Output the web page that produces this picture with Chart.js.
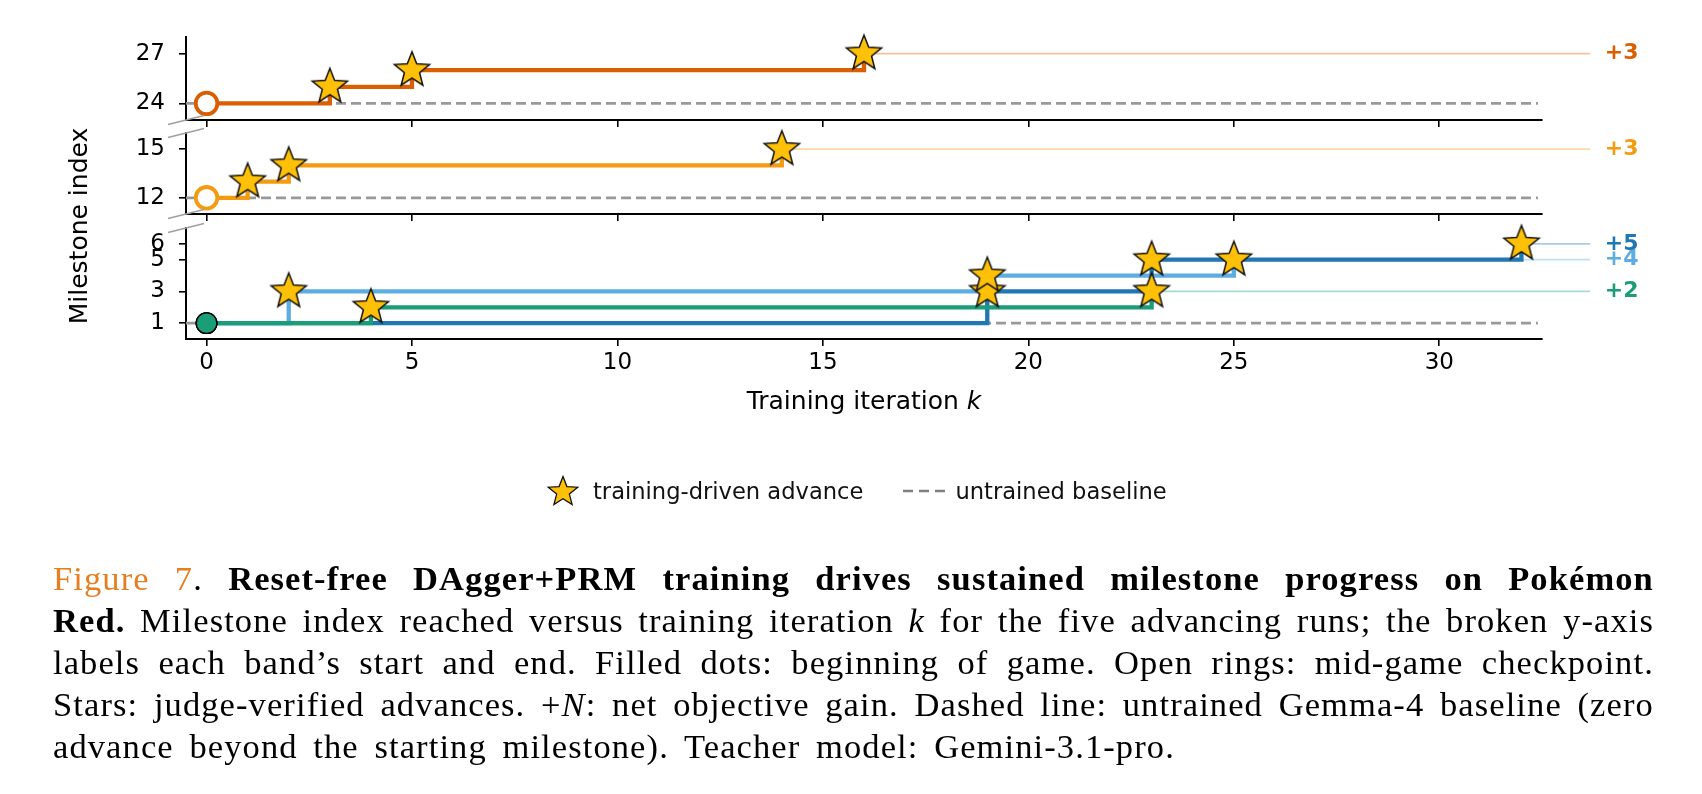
<!DOCTYPE html>
<html><head><meta charset="utf-8">
<script src="https://cdn.jsdelivr.net/npm/chart.js@4.4.1/dist/chart.umd.min.js"></script>
<style>
html,body{margin:0;padding:0;background:#fff;}
#wrap{position:relative;width:1702px;height:794px;overflow:hidden;background:#fff;font-family:'DejaVu Sans';}
canvas.panel{position:absolute;left:0;top:0;}
#ylabel{position:absolute;left:-70.6px;top:211px;width:300px;height:30px;line-height:30px;text-align:center;font-size:25px;transform:rotate(-90deg);color:#000;white-space:nowrap;}
#xlabel{position:absolute;left:564px;width:600px;top:386px;height:30px;line-height:30px;text-align:center;font-size:25px;color:#000;white-space:nowrap;}
#legend{position:absolute;left:545px;top:476px;height:30px;display:flex;align-items:center;font-size:22.6px;color:#111;white-space:nowrap;}
#legend .txt{line-height:30px;}
#caption{position:absolute;left:53px;top:557px;width:1601px;font-family:'Liberation Serif';font-size:34.5px;line-height:42px;color:#000;letter-spacing:1.1px;}
.jl{display:flex;justify-content:space-between;white-space:nowrap;}
.last{white-space:nowrap;word-spacing:6px;}
.fig{color:#E67E22;}
</style></head>
<body>
<div id="wrap">
  <canvas id="cTop" class="panel" width="1702" height="794" style="width:1702px;height:794px"></canvas>
  <canvas id="cMid" class="panel" width="1702" height="794" style="width:1702px;height:794px"></canvas>
  <canvas id="cLow" class="panel" width="1702" height="794" style="width:1702px;height:794px"></canvas>
  <div id="ylabel">Milestone index</div>
  <div id="xlabel">Training iteration <i>k</i></div>
  <div id="legend">
    <span id="legStar" style="display:inline-block;width:34px;height:34px"></span>
    <span class="txt" style="margin-left:14px">training-driven advance</span>
    <svg width="42" height="10" style="margin-left:40px"><line x1="0" y1="5" x2="42" y2="5" stroke="#808080" stroke-width="2.6" stroke-dasharray="10 6"/></svg>
    <span class="txt" style="margin-left:10px">untrained baseline</span>
  </div>
  <div id="caption">
    <div class="jl"><span><span class="fig">Figure</span></span><span><span class="fig">7</span>.</span><b>Reset-free</b><b>DAgger+PRM</b><b>training</b><b>drives</b><b>sustained</b><b>milestone</b><b>progress</b><b>on</b><b>Pokémon</b></div>
    <div class="jl"><b>Red.</b><span>Milestone</span><span>index</span><span>reached</span><span>versus</span><span>training</span><span>iteration</span><i>k</i><span>for</span><span>the</span><span>five</span><span>advancing</span><span>runs;</span><span>the</span><span>broken</span><span>y-axis</span></div>
    <div class="jl"><span>labels</span><span>each</span><span>band’s</span><span>start</span><span>and</span><span>end.</span><span>Filled</span><span>dots:</span><span>beginning</span><span>of</span><span>game.</span><span>Open</span><span>rings:</span><span>mid-game</span><span>checkpoint.</span></div>
    <div class="jl"><span>Stars:</span><span>judge-verified</span><span>advances.</span><span>+<i>N</i>:</span><span>net</span><span>objective</span><span>gain.</span><span>Dashed</span><span>line:</span><span>untrained</span><span>Gemma-4</span><span>baseline</span><span>(zero</span></div>
    <div class="last">advance beyond the starting milestone). Teacher model: Gemini-3.1-pro.</div>
  </div>
</div>
<script>
// ---------------- data ----------------
const iterTicks = [0, 5, 10, 15, 20, 25, 30];
const topTicks = [24, 27];
const midTicks = [12, 15];
const lowTicks = [1, 3, 5, 6];

// iterations at which each run reached a new milestone, and the milestone reached
const runTopIters = [0, 3, 5, 16];
const runTopLevels = [24, 25, 26, 27];
const runMidIters = [0, 1, 2, 14];
const runMidLevels = [12, 13, 14, 15];
const runLightIters = [0, 2, 19, 25];
const runLightLevels = [1, 3, 4, 5];
const runDarkIters = [0, 19, 23, 32];
const runDarkLevels = [1, 3, 5, 6];
const runGreenIters = [0, 4, 23];
const runGreenLevels = [1, 2, 3];

const netGains = [3, 3, 4, 5, 2];          // top, mid, light blue, dark blue, green
const baselineLevels = [24, 12, 1];        // top band, middle band, low band

// ---------------- style / layout ----------------
const W = 1702, H = 794;
const AREA_LEFT = 186, AREA_RIGHT = 1542, XH = 40;
const X_MIN = -0.5, X_MAX = 32.5;
const BASE_SPAN = [-0.5, 32.4];
const GAIN_LINE_END = 33.67;
const GAIN_LABEL_X = 34.03;
const FONT = 'DejaVu Sans';
const TICK_SIZE = 23;

function hexA(hex, a) {
  const n = parseInt(hex.slice(1), 16);
  return `rgba(${(n >> 16) & 255},${(n >> 8) & 255},${n & 255},${a})`;
}
function makeStar(R, fill, edge, lw) {
  const pad = lw + 1;
  const size = Math.ceil(2 * R + 2 * pad);
  const c = document.createElement('canvas');
  c.width = size; c.height = size;
  const g = c.getContext('2d');
  const cx = size / 2, cy = size / 2;
  g.beginPath();
  for (let i = 0; i < 10; i++) {
    const r = i % 2 ? R * 0.43 : R;
    const a = -Math.PI / 2 + i * Math.PI / 5;
    const px = cx + r * Math.cos(a), py = cy + r * Math.sin(a);
    if (i === 0) g.moveTo(px, py); else g.lineTo(px, py);
  }
  g.closePath();
  g.fillStyle = fill; g.fill();
  g.lineWidth = lw; g.strokeStyle = edge; g.lineJoin = 'miter'; g.stroke();
  return c;
}
const STAR_FILL = '#FFC107';
const STAR_IMG = makeStar(18.5, STAR_FILL, '#111', 1.5);
document.getElementById('legStar').appendChild(makeStar(15.5, STAR_FILL, '#111', 1.3));

const runTop = {iters: runTopIters, levels: runTopLevels, gain: netGains[0], color: '#D95F02', start: 'ring'};
const runMid = {iters: runMidIters, levels: runMidLevels, gain: netGains[1], color: '#F39C12', start: 'ring'};
const runLight = {iters: runLightIters, levels: runLightLevels, gain: netGains[2], color: '#5DADE2', start: 'dot'};
const runDark = {iters: runDarkIters, levels: runDarkLevels, gain: netGains[3], color: '#1F77B4', start: 'dot'};
const runGreen = {iters: runGreenIters, levels: runGreenLevels, gain: netGains[4], color: '#1B9E77', start: 'dot'};

const breakPlugin = {
  id: 'breaks',
  afterDraw(chart, args, opts) {
    const {ctx, chartArea: a} = chart;
    ctx.save();
    ctx.strokeStyle = '#a0a0a0'; ctx.lineWidth = 1.5;
    (opts.edges || []).forEach(edge => {
      const y = edge === 'top' ? a.top : a.bottom;
      ctx.beginPath(); ctx.moveTo(a.left - 18, y + 4.5); ctx.lineTo(a.left + 18, y - 4.5); ctx.stroke();
    });
    ctx.restore();
  }
};
const gainPlugin = {
  id: 'gains',
  afterDatasetsDraw(chart, args, opts) {
    const {ctx} = chart; const xs = chart.scales.x, ys = chart.scales.y;
    ctx.save();
    ctx.font = `bold 22px "${FONT}"`; ctx.textBaseline = 'middle'; ctx.textAlign = 'left';
    (opts.items || []).forEach(r => {
      ctx.fillStyle = r.color;
      ctx.fillText('+' + r.gain, xs.getPixelForValue(GAIN_LABEL_X), ys.getPixelForValue(r.levels[r.levels.length - 1]));
    });
    ctx.restore();
  }
};

// runList: top-most drawn first
function buildPanel(id, top, bottom, yMin, yMax, yTicks, runList, baseLevel, showXLabels, breakEdges) {
  const datasets = [];
  const stars = [];
  runList.forEach(r => r.iters.forEach((x, i) => { if (i > 0) stars.push({x, y: r.levels[i]}); }));
  datasets.push({data: stars, showLine: false, pointStyle: STAR_IMG, pointRadius: 17, clip: false});
  const bottomFirst = runList.slice().reverse();
  datasets.push({
    data: bottomFirst.map(r => ({x: r.iters[0], y: r.levels[0]})), showLine: false, pointStyle: 'circle',
    pointRadius: bottomFirst.map(r => r.start === 'ring' ? 10.8 : 10.3),
    pointBackgroundColor: bottomFirst.map(r => r.start === 'ring' ? '#fff' : r.color),
    pointBorderColor: bottomFirst.map(r => r.start === 'ring' ? r.color : '#000'),
    pointBorderWidth: bottomFirst.map(r => r.start === 'ring' ? 3.8 : 1.3), clip: false
  });
  runList.forEach(r => datasets.push({
    data: r.iters.map((x, i) => ({x, y: r.levels[i]})), stepped: 'before', borderColor: r.color,
    borderWidth: 4.3, pointRadius: 0, fill: false, borderJoinStyle: 'miter', borderCapStyle: 'butt'
  }));
  runList.forEach(r => {
    const lx = r.iters[r.iters.length - 1], ly = r.levels[r.levels.length - 1];
    datasets.push({data: [{x: lx, y: ly}, {x: GAIN_LINE_END, y: ly}], borderColor: hexA(r.color, 0.38),
      borderWidth: 1.8, pointRadius: 0, fill: false, clip: false});
  });
  datasets.push({data: [{x: BASE_SPAN[0], y: baseLevel}, {x: BASE_SPAN[1], y: baseLevel}], borderColor: '#999',
    borderWidth: 2.8, borderDash: [10, 5], pointRadius: 0, fill: false});

  const axisGrid = {drawOnChartArea: false, drawTicks: true, tickLength: 7, color: '#000', lineWidth: 1.6};
  const axisBorder = {display: true, color: '#000', width: 2};
  return new Chart(document.getElementById(id), {
    type: 'line',
    data: {datasets},
    options: {
      responsive: false, animation: false, events: [],
      layout: {padding: {left: 0, right: W - AREA_RIGHT, top: top, bottom: H - bottom - XH}},
      plugins: {legend: {display: false}, tooltip: {enabled: false}, breaks: {edges: breakEdges}, gains: {items: bottomFirst}},
      scales: {
        x: {type: 'linear', min: X_MIN, max: X_MAX,
          afterBuildTicks: s => { s.ticks = iterTicks.map(v => ({value: v})); },
          afterFit: s => { s.height = XH; },
          grid: axisGrid, border: axisBorder,
          ticks: {autoSkip: false, maxRotation: 0, padding: 3, color: '#000', font: {family: FONT, size: TICK_SIZE},
            callback: v => showXLabels ? String(v) : ''}},
        y: {type: 'linear', min: yMin, max: yMax,
          afterBuildTicks: s => { s.ticks = yTicks.map(v => ({value: v})); },
          afterFit: s => { s.width = AREA_LEFT; },
          grid: axisGrid, border: axisBorder,
          ticks: {autoSkip: false, padding: 14, color: '#000', font: {family: FONT, size: TICK_SIZE}, callback: v => String(v)}}
      }
    },
    plugins: [breakPlugin, gainPlugin]
  });
}

buildPanel('cTop', 37, 120, 23, 28, topTicks, [runTop], baselineLevels[0], false, ['bottom']);
buildPanel('cMid', 133, 214, 11, 16, midTicks, [runMid], baselineLevels[1], false, ['top', 'bottom']);
buildPanel('cLow', 228, 339, 0, 7, lowTicks, [runGreen, runDark, runLight], baselineLevels[2], true, ['top']);
</script>
</body></html>
